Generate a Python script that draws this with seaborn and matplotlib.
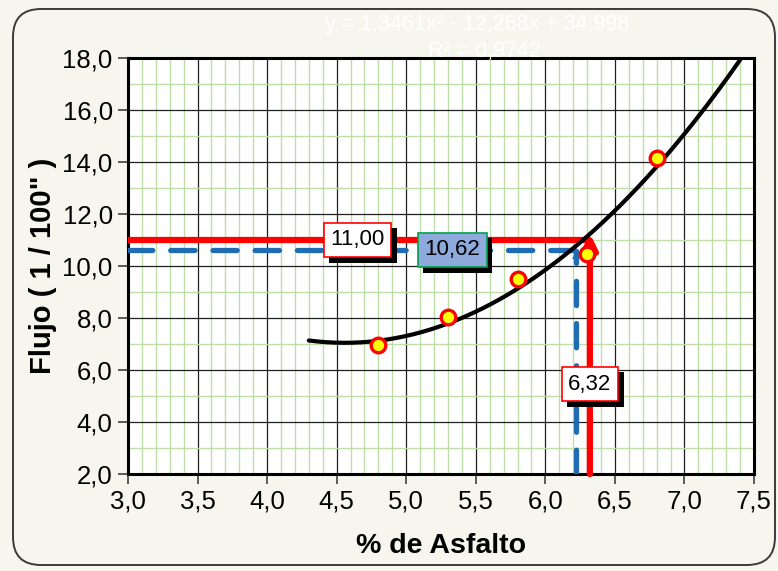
import numpy as np
import pandas as pd
import matplotlib
matplotlib.use("Agg")
import matplotlib.pyplot as plt
import matplotlib.patheffects as pe
from matplotlib.patches import FancyBboxPatch
from matplotlib.ticker import MultipleLocator, FuncFormatter
import seaborn as sns

# Ensayo Marshall: flujo vs. contenido de asfalto
asfalto = [4.8, 5.3, 5.8, 6.3, 6.8]
flujo = [6.98, 8.03, 9.50, 10.45, 14.15]

# Ajuste polinomial de 2do grado
coef_a, coef_b, coef_c = 1.3461, -12.268, 34.998
r2 = 0.9742
curva_x_min, curva_x_max = 4.3, 7.4

# Valores de diseño
flujo_diseno = 11.00
asfalto_diseno = 6.32
flujo_optimo = 10.62
asfalto_optimo = 6.22

xticks = [3.0, 3.5, 4.0, 4.5, 5.0, 5.5, 6.0, 6.5, 7.0, 7.5]
yticks = [2.0, 4.0, 6.0, 8.0, 10.0, 12.0, 14.0, 16.0, 18.0]

sns.set_theme(style="white")
plt.rcParams["font.family"] = ["Liberation Sans", "DejaVu Sans"]
plt.rcParams["text.color"] = "black"
plt.rcParams["axes.labelcolor"] = "black"
plt.rcParams["xtick.color"] = "black"
plt.rcParams["ytick.color"] = "black"

BG = "#F6F6EE"
fig = plt.figure(figsize=(7.78, 5.71), dpi=100, facecolor=BG)

# Marco redondeado alrededor del gráfico
frame = FancyBboxPatch((13 + 28, 6 + 28), 762 - 56, 556 - 56,
                       boxstyle="round,pad=28", transform=None,
                       facecolor=BG, edgecolor="#3A3A3A", linewidth=1.4,
                       zorder=-10)
fig.patches.append(frame)

ax = fig.add_axes([128 / 778, 1 - 474 / 571, 626 / 778, 416 / 571])
ax.set_zorder(1)
ax.set_facecolor("white")

# Curva de ajuste
xs = np.linspace(curva_x_min, curva_x_max, 200)
df_curva = pd.DataFrame({"x": xs, "y": coef_a * xs**2 + coef_b * xs + coef_c})
sns.lineplot(data=df_curva, x="x", y="y", ax=ax, color="black", linewidth=3.0,
             zorder=6, legend=False)

# Líneas de lectura (diseño, rojo)
ax.plot([3.0, asfalto_diseno], [flujo_diseno, flujo_diseno], color="#FF0000",
        linewidth=4.5, solid_capstyle="butt", zorder=4)
ax.annotate("", xy=(asfalto_diseno, flujo_diseno + 0.25),
            xytext=(asfalto_diseno, 2.0),
            arrowprops=dict(arrowstyle="-|>", color="#FF0000", lw=4.5,
                            mutation_scale=22, shrinkA=0, shrinkB=0),
            zorder=4)

# Líneas de lectura (óptimo, azul discontinuo)
dash = dict(color="#1F6CB4", linewidth=3.8, dashes=(4.6, 3.4),
            dash_capstyle="round", zorder=5)
ax.plot([3.0, asfalto_optimo], [flujo_optimo, flujo_optimo], **dash)
ax.plot([asfalto_optimo, asfalto_optimo], [2.0, flujo_optimo - 0.05], **dash)
ax.annotate("", xy=(asfalto_optimo, flujo_optimo - 0.05),
            xytext=(asfalto_optimo, flujo_optimo - 0.6),
            arrowprops=dict(arrowstyle="-|>", color="#1F6CB4", lw=0,
                            mutation_scale=14, shrinkA=0, shrinkB=0),
            zorder=5)

# Puntos del ensayo
df_pts = pd.DataFrame({"asfalto": asfalto, "flujo": flujo})
sns.scatterplot(data=df_pts, x="asfalto", y="flujo", ax=ax, s=110,
                color="#FFFF00", edgecolor="#FF0000", linewidth=2.4,
                zorder=7, legend=False)

sombra = [pe.SimplePatchShadow(offset=(4.0, -4.0), shadow_rgbFace="black",
                               alpha=1.0),
          pe.Normal()]


def etiqueta(x, y, texto, face, edge):
    t = ax.text(x, y, texto, ha="center", va="center", fontsize=16,
                color="black", zorder=9,
                bbox=dict(boxstyle="square,pad=0.3", facecolor=face,
                          edgecolor=edge, linewidth=1.2))
    t.get_bbox_patch().set_path_effects(sombra)


etiqueta(4.65, 11.0, f"{flujo_diseno:.2f}".replace(".", ","), "white", "#FF0000")
etiqueta(5.33, 10.62, f"{flujo_optimo:.2f}".replace(".", ","), "#8EA9DB", "#00A050")
etiqueta(6.32, 5.46, f"{asfalto_diseno:.2f}".replace(".", ","), "white", "#FF0000")

# Ecuación de la tendencia
ec = (f"y = {coef_a:.4f}x² - {abs(coef_b):.3f}x + {coef_c:.3f}").replace(".", ",")
ax.text(5.51, 19.3, ec, ha="center", va="center", fontsize=15.5,
        color="white", clip_on=False, zorder=3)
ax.text(5.56, 18.25, f"R² = {r2:.4f}".replace(".", ","), ha="center",
        va="center", fontsize=15.5, color="white", clip_on=False, zorder=3)

# Ejes, rejilla y formato
ax.set_xlim(3.0, 7.5)
ax.set_ylim(2.0, 18.0)
ax.set_xticks(xticks)
ax.set_yticks(yticks)
ax.xaxis.set_minor_locator(MultipleLocator(0.1))
ax.yaxis.set_minor_locator(MultipleLocator(1.0))
coma = FuncFormatter(lambda v, p: f"{v:.1f}".replace(".", ","))
ax.xaxis.set_major_formatter(coma)
ax.yaxis.set_major_formatter(coma)

ax.grid(which="minor", color="#BFDDA8", linewidth=1.0, zorder=0)
ax.grid(which="major", color="#202020", linewidth=0.9, zorder=1)
ax.set_axisbelow(True)

for s in ax.spines.values():
    s.set_visible(True)
    s.set_color("black")
    s.set_linewidth(2.2)

ax.tick_params(axis="both", which="major", direction="out", length=7,
               width=1.2, color="#404040", labelcolor="black", labelsize=18.5,
               pad=4, bottom=True, left=True)
ax.tick_params(axis="both", which="minor", length=0)

ax.set_xlabel("% de Asfalto", fontsize=20.5, fontweight="bold", labelpad=14,
              color="black")
ax.set_ylabel('Flujo ( 1 / 100" )', fontsize=21, fontweight="bold",
              labelpad=4, color="black")

fig.savefig("out.png", dpi=100, facecolor=BG)
